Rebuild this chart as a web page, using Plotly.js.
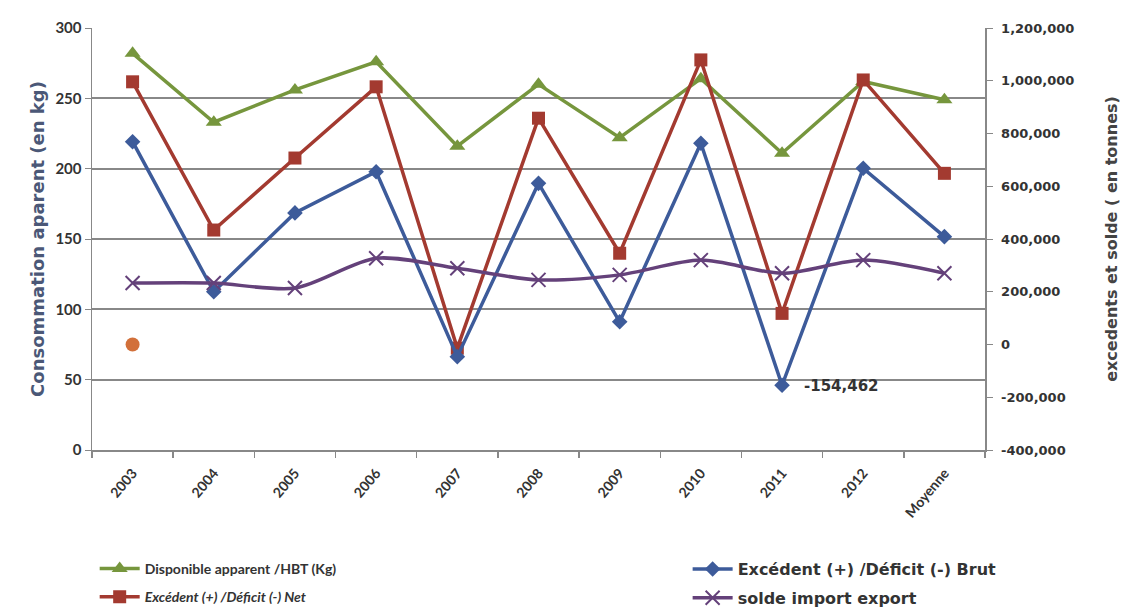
<!DOCTYPE html>
<html>
<head>
<meta charset="utf-8">
<script src="https://cdn.plot.ly/plotly-3.0.1.min.js"></script>
<style>
html,body{margin:0;padding:0;background:#fff;}
#chart{width:1130px;height:612px;}
</style>
</head>
<body>
<div id="chart"></div>
<script>
const categories = ["2003","2004","2005","2006","2007","2008","2009","2010","2011","2012","Moyenne"];
const disponible = [282, 233, 256, 276, 216, 260, 222, 264, 211, 262, 249];
const excedentNet = [996000, 434000, 707000, 977000, -14000, 858000, 346000, 1079000, 118000, 1003000, 649000];
const excedentBrut = [769000, 200000, 499000, 655000, -46000, 611000, 86000, 763000, -154462, 668000, 409000];
const soldeImport = [233000, 233000, 214000, 327000, 289000, 245000, 264000, 320000, 270000, 320000, 270000];
const strayCategory = ["2003"];
const strayValue = [0];
const leftTicks = [0, 50, 100, 150, 200, 250, 300];
const rightTicks = [-400000, -200000, 0, 200000, 400000, 600000, 800000, 1000000, 1200000];
const rightTickText = ["-400,000","-200,000","0","200,000","400,000","600,000","800,000","1,000,000","1,200,000"];
const labelIndex = 8; // 2011 -> data label for the brut minimum
const labelText = "-154,462";

const FONT = "Lato, 'Open Sans', sans-serif";
const WIDE = "'DejaVu Sans', sans-serif";
const green = "#76963d", red = "#a33a30", blue = "#3d5b9a", purple = "#64417a";

const traces = [
  {x: categories, y: disponible, name: "Disponible apparent /HBT (Kg)", type: "scatter", mode: "lines+markers",
   yaxis: "y", line: {color: green, width: 3.5}, marker: {symbol: "triangle-up", size: 14, color: green},
   legend: "legend", legendgroup: "g1"},
  {x: categories, y: excedentNet, name: "<i>Excédent (+) /Déficit (-) Net</i>", type: "scatter", mode: "lines+markers",
   yaxis: "y2", line: {color: red, width: 3.5}, marker: {symbol: "square", size: 13, color: red},
   legend: "legend", legendgroup: "g2"},
  {x: categories, y: excedentBrut, name: "Excédent (+) /Déficit (-) Brut", type: "scatter", mode: "lines+markers",
   yaxis: "y2", line: {color: blue, width: 3.5}, marker: {symbol: "diamond", size: 12, color: blue},
   legend: "legend2", legendgroup: "g3"},
  {x: categories, y: soldeImport, name: "solde import export", type: "scatter", mode: "lines+markers",
   yaxis: "y2", line: {color: purple, width: 3.5, shape: "spline", smoothing: 0.8},
   marker: {symbol: "x-thin", size: 14, line: {color: purple, width: 2}, color: purple},
   legend: "legend2", legendgroup: "g4"},
  {x: strayCategory, y: strayValue, type: "scatter", mode: "markers", yaxis: "y2", showlegend: false,
   marker: {symbol: "circle", size: 14, color: "#d2703a"}, hoverinfo: "skip"}
];

const layout = {
  width: 1130, height: 612,
  margin: {l: 92, r: 145, t: 28, b: 162, autoexpand: false},
  paper_bgcolor: "#fff", plot_bgcolor: "#fff",
  showlegend: true,
  font: {family: FONT, color: "#333"},
  xaxis: {
    type: "category", range: [-0.5, 10.5], tickangle: -50, ticklabelstandoff: 8,
    tickson: "boundaries", ticks: "outside", ticklen: 6, tickcolor: "#888", tickwidth: 1.5,
    showline: true, linecolor: "#888", linewidth: 1.5, showgrid: false,
    tickfont: {family: FONT, size: 14, color: "#333", weight: "bold"}
  },
  yaxis: {
    range: [0, 300], tickvals: leftTicks, ticks: "outside", ticklen: 6, tickcolor: "#888",
    showline: true, linecolor: "#888", linewidth: 1.5,
    showgrid: true, gridcolor: "#888", gridwidth: 1.8, zeroline: false,
    tickfont: {family: FONT, size: 15, color: "#333", weight: "bold"},
    title: {text: "Consommation aparent (en kg)", standoff: 6,
            font: {family: WIDE, size: 18, color: "#4b5877", weight: "bold"}}
  },
  yaxis2: {
    overlaying: "y", side: "right", range: [-400000, 1200000], ticklabelstandoff: 6,
    tickvals: rightTicks, ticktext: rightTickText, ticks: "outside", ticklen: 6, tickcolor: "#888",
    showline: true, linecolor: "#888", linewidth: 1.5, showgrid: false, zeroline: false,
    tickfont: {family: WIDE, size: 13, color: "#333", weight: "bold"},
    title: {text: "excedents et solde ( en tonnes)", standoff: 32,
            font: {family: WIDE, size: 16, color: "#444", weight: "bold"}}
  },
  legend: {
    x: 0.003, xanchor: "left", y: -0.244, yanchor: "top", orientation: "v", itemwidth: 40,
    tracegroupgap: 7, bgcolor: "rgba(0,0,0,0)",
    font: {family: FONT, size: 14, color: "#333", weight: "bold"}
  },
  legend2: {
    x: 0.667, xanchor: "left", y: -0.242, yanchor: "top", orientation: "v", itemwidth: 40,
    tracegroupgap: 5, bgcolor: "rgba(0,0,0,0)",
    font: {family: WIDE, size: 16, color: "#333", weight: "bold"}
  },
  annotations: [
    {x: labelIndex, y: excedentBrut[labelIndex], xref: "x", yref: "y2", text: labelText, showarrow: false,
     xanchor: "left", yanchor: "middle", xshift: 20, yshift: -1,
     font: {family: WIDE, size: 15, color: "#333", weight: "bold"}}
  ]
};

Plotly.newPlot("chart", traces, layout, {displayModeBar: false, staticPlot: true});
</script>
</body>
</html>
